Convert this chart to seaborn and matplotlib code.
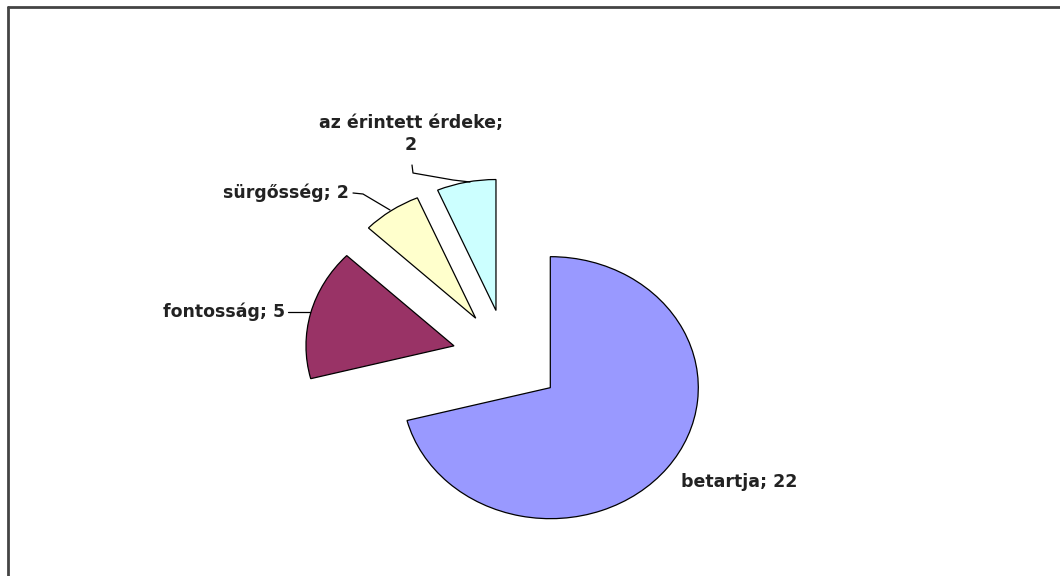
import matplotlib
matplotlib.use("Agg")
import matplotlib.pyplot as plt
import seaborn as sns
from matplotlib.lines import Line2D

sns.set_theme(style="white")
plt.rcParams['font.family'] = ['DejaVu Sans']

# data
labels = ['betartja', 'fontosság', 'sürgősség', 'az érintett érdeke']
values = [22, 5, 2, 2]
colors = ['#9999FF', '#993366', '#FFFFCC', '#CCFFFF']

W, H = 1060, 576
fig = plt.figure(figsize=(W / 100, H / 100), dpi=100)
ax = fig.add_axes([0, 0, 1, 1])

# pixel mapping of the (slightly stretched) pie
cx, cy, rx, ry = 507, 358, 148, 131


def px(x, y):
    return (x - cx) / rx, (cy - y) / ry


wedges, _ = ax.pie(values, colors=colors, startangle=90, counterclock=False,
                   explode=[0.37] * 4,
                   wedgeprops=dict(edgecolor='black', linewidth=0.9))
ax.set_aspect('auto')
ax.set_xlim((0 - cx) / rx, (W - cx) / rx)
ax.set_ylim((cy - H) / ry, cy / ry)
ax.axis('off')

tkw = dict(fontsize=12.5, fontweight='bold', color='#222222')

# labels
ax.text(*px(681, 482), f'{labels[0]}; {values[0]}', ha='left', va='center', **tkw)

ax.text(*px(285, 312), f'{labels[1]}; {values[1]}', ha='right', va='center', **tkw)
ax.plot(*zip(px(288, 312), px(310, 312)), color='black', lw=0.9)

ax.text(*px(349, 193), f'{labels[2]}; {values[2]}', ha='right', va='center', **tkw)
ax.plot(*zip(px(353, 193), px(363, 194), px(390, 210)), color='black', lw=0.9)

ax.text(*px(411, 134), f'{labels[3]};\n{values[3]}', ha='center', va='center',
        linespacing=1.35, **tkw)
ax.plot(*zip(px(412, 165), px(413, 173), px(453, 180), px(470, 182)),
        color='black', lw=0.9)

# chart area border (top and left visible)
fig.add_artist(Line2D([8 / W, 1], [1 - 7 / H, 1 - 7 / H], color='#444444', lw=2,
                      transform=fig.transFigure))
fig.add_artist(Line2D([8 / W, 8 / W], [0, 1 - 7 / H], color='#444444', lw=2,
                      transform=fig.transFigure))

fig.savefig('out.png', dpi=100, facecolor='white')
